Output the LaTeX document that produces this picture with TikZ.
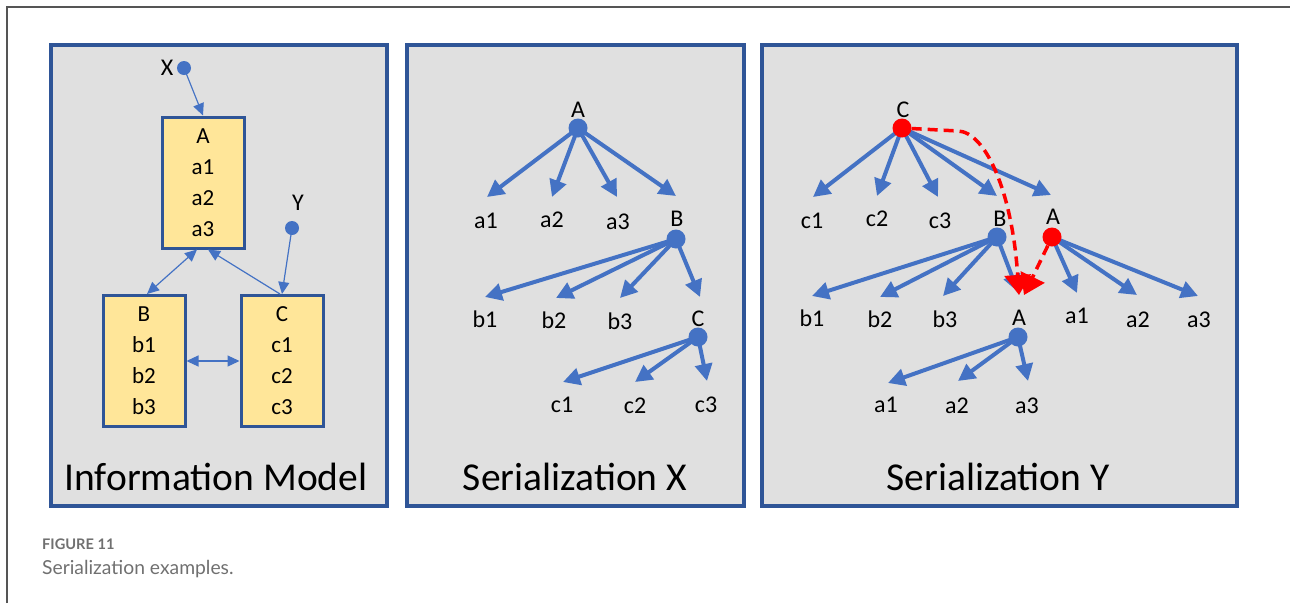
\documentclass[tikz,border=0pt]{standalone}
\usepackage{fontspec}
\setmainfont{Carlito}
\newfontfamily\capfont{Lato}
\usetikzlibrary{arrows.meta}
\definecolor{arrblue}{HTML}{4472C4}
\definecolor{panelblue}{HTML}{2F5597}
\definecolor{panelgray}{HTML}{E0E0E0}
\definecolor{boxyellow}{HTML}{FFE699}
\definecolor{capgray}{HTML}{707070}
\definecolor{framegray}{HTML}{555555}
\begin{document}
\begin{tikzpicture}[x=1pt,y=-1pt,
  panel/.style={draw=panelblue, line width=3.5pt, fill=panelgray},
  lbl/.style={font=\fontsize{24}{29}\selectfont, anchor=base, inner sep=0pt},
  ttl/.style={font=\fontsize{39.5}{47}\selectfont, anchor=base, inner sep=0pt},
  dotb/.style={circle, fill=arrblue, inner sep=0pt, minimum size=19pt},
  dotr/.style={circle, fill=red, inner sep=0pt, minimum size=19pt},
  dots/.style={circle, fill=arrblue, inner sep=0pt, minimum size=14pt},
  big/.style={draw=arrblue, line width=4pt, -{Triangle[length=17pt,width=17pt]}},
  thinarr/.style={draw=arrblue, line width=1.2pt, -{Triangle[length=12pt,width=11pt]}},
  thinboth/.style={draw=arrblue, line width=1.2pt, {Triangle[length=12pt,width=11pt]}-{Triangle[length=12pt,width=11pt]}},
  reddash/.style={draw=red, line width=3.5pt, dash pattern=on 10pt off 6pt, -{Triangle[length=20pt,width=26pt]}},
  ibox/.style={draw=panelblue, line width=3pt, fill=boxyellow, minimum width=82pt, minimum height=131pt, align=center, font=\fontsize{23}{31}\selectfont, inner sep=0pt}
]
\useasboundingbox (0,0) rectangle (1290,603);
% outer frame
\draw[framegray, line width=1.5pt] (7,603) -- (7,7) -- (1290,7);
% panels
\draw[panel] (51,45) rectangle (387,506);
\draw[panel] (407,45) rectangle (744,506);
\draw[panel] (762,45) rectangle (1237,506);
% titles
\node[ttl] (t1) at (216,490) {Information Model};
\node[ttl] (t2) at (575,490) {Serialization X};
\node[ttl] (t3) at (998,490) {Serialization Y};
% caption
\node[font=\capfont\bfseries\fontsize{14.6}{17}\selectfont, text=capgray, anchor=base west, inner sep=0pt] (cap1) at (42,549) {FIGURE 11};
\node[font=\capfont\fontsize{19.3}{23}\selectfont, text=capgray, anchor=base west, inner sep=0pt] (cap2) at (42,574) {Serialization examples.};

% ---------- Panel 1 ----------
\node[ibox] (boxA) at (203,182.5) {A\\a1\\a2\\a3};
\node[ibox] (boxB) at (144,361) {B\\b1\\b2\\b3};
\node[ibox] (boxC) at (282,361) {C\\c1\\c2\\c3};
\coordinate (pX) at (184,68);
\coordinate (pY) at (292,228);
\draw[thinarr] (pX) -- (boxA.north);
\draw[thinarr] (pY) -- (boxC.north);
\draw[thinboth] ([xshift=-6pt]boxA.south) -- ([xshift=3pt]boxB.north);
\draw[thinarr] ([xshift=-2pt]boxC.north) -- ([xshift=5pt]boxA.south);
\draw[thinboth] (boxB.east) -- (boxC.west);
\node[dots] (dX) at (pX) {};
\node[dots] (dY) at (pY) {};
\node[lbl] (lX) at (167,75) {X};
\node[lbl] (lY) at (298,210) {Y};

% ---------- Panel 2 ----------
\coordinate (xA) at (578,128);
\coordinate (xB) at (676,239);
\coordinate (xC) at (698,337);
\coordinate (xta1) at (487,197);
\coordinate (xta2) at (552,197);
\coordinate (xta3) at (617,197);
\coordinate (xtB) at (676,196);
\coordinate (xtb1) at (485,297);
\coordinate (xtb2) at (556,298);
\coordinate (xtb3) at (620,298);
\coordinate (xtC) at (700,297);
\coordinate (xtc1) at (563,382);
\coordinate (xtc2) at (635,382);
\coordinate (xtc3) at (707,381);
\foreach \t in {xta1,xta2,xta3,xtB} \draw[big] (xA) -- (\t);
\foreach \t in {xtb1,xtb2,xtb3,xtC} \draw[big] (xB) -- (\t);
\foreach \t in {xtc1,xtc2,xtc3} \draw[big] (xC) -- (\t);
\node[dotb] (xdA) at (xA) {};
\node[dotb] (xdB) at (xB) {};
\node[dotb] (xdC) at (xC) {};
\node[lbl] (xlA) at (578,117) {A};
\node[lbl] (xla1) at (486,228) {a1};
\node[lbl] (xla2) at (552,227) {a2};
\node[lbl] (xla3) at (618,229) {a3};
\node[lbl] (xlB) at (677,226) {B};
\node[lbl] (xlb1) at (485,327) {b1};
\node[lbl] (xlb2) at (554,328) {b2};
\node[lbl] (xlb3) at (620,329) {b3};
\node[lbl] (xlC) at (698,326) {C};
\node[lbl] (xlc1) at (562,412) {c1};
\node[lbl] (xlc2) at (635,413) {c2};
\node[lbl] (xlc3) at (706,412) {c3};

% ---------- Panel 3 ----------
\coordinate (yC) at (902,128);
\coordinate (yB) at (997,237);
\coordinate (yA) at (1052,237);
\coordinate (yA2) at (1018,337);
\coordinate (ytc1) at (813,197);
\coordinate (ytc2) at (877,196);
\coordinate (ytc3) at (938,197);
\coordinate (ytB) at (997,196);
\coordinate (ytA) at (1051,195);
\coordinate (ytb1) at (812,296);
\coordinate (ytb2) at (880,297);
\coordinate (ytb3) at (943,296);
\coordinate (ytA2) at (1018,292);
\coordinate (yta1) at (1077,293);
\coordinate (yta2) at (1137,295);
\coordinate (yta3) at (1198,296);
\coordinate (ytaa1) at (888,383);
\coordinate (ytaa2) at (958,381);
\coordinate (ytaa3) at (1028,381);
\coordinate (ybend) at (958,131);
\coordinate (yredtip1) at (1019,295);
\coordinate (yredtip2) at (1024,295);
\foreach \t in {ytc1,ytc2,ytc3,ytB,ytA} \draw[big] (yC) -- (\t);
\foreach \t in {ytb1,ytb2,ytb3,ytA2} \draw[big] (yB) -- (\t);
\foreach \t in {yta1,yta2,yta3} \draw[big] (yA) -- (\t);
\foreach \t in {ytaa1,ytaa2,ytaa3} \draw[big] (yA2) -- (\t);
\node[dotr] (ydC) at (yC) {};
\node[dotb] (ydB) at (yB) {};
\node[dotr] (ydA) at (yA) {};
\node[dotb] (ydA2) at (yA2) {};
\draw[reddash] (ydC) -- (ybend) .. controls (985,132) and (1012,190) .. (yredtip1);
\draw[reddash] (ydA) -- (yredtip2);
\node[lbl] (ylC) at (903,117) {C};
\node[lbl] (ylc1) at (812,228) {c1};
\node[lbl] (ylc2) at (877,226) {c2};
\node[lbl] (ylc3) at (940,228) {c3};
\node[lbl] (ylB) at (1000,226) {B};
\node[lbl] (ylA) at (1053,224) {A};
\node[lbl] (ylb1) at (812,326) {b1};
\node[lbl] (ylb2) at (880,327) {b2};
\node[lbl] (ylb3) at (945,327) {b3};
\node[lbl] (ylA2) at (1019,325) {A};
\node[lbl] (yla1) at (1077,323) {a1};
\node[lbl] (yla2) at (1138,327) {a2};
\node[lbl] (yla3) at (1199,327) {a3};
\node[lbl] (ylaa1) at (886,412) {a1};
\node[lbl] (ylaa2) at (957,413) {a2};
\node[lbl] (ylaa3) at (1027,413) {a3};
\end{tikzpicture}
\end{document}
